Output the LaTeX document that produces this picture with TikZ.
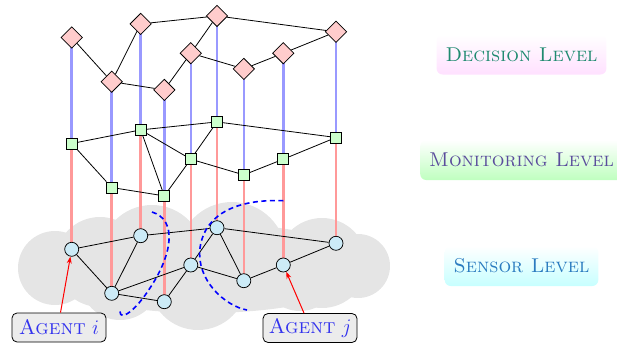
\documentclass[tikz,border=0pt]{standalone}
\usetikzlibrary{shapes.geometric,arrows.meta}
\pgfdeclarelayer{cloudl}
\pgfdeclarelayer{vert}
\pgfsetlayers{cloudl,vert,main}
\definecolor{dectext}{HTML}{1F8A70}
\definecolor{montext}{HTML}{5A4C9C}
\definecolor{sentext}{HTML}{2A7BC0}
\definecolor{sensfill}{HTML}{CCEBF7}
\definecolor{monfill}{HTML}{CCFFCC}
\definecolor{decfill}{HTML}{FFCCCC}
\definecolor{agenttext}{HTML}{3333EE}
\begin{document}
\begin{tikzpicture}[x=1pt,y=-1pt,
  sens/.style={circle,draw,line width=0.75pt,fill=sensfill,inner sep=0pt,minimum size=14pt},
  mon/.style={rectangle,draw,line width=0.75pt,fill=monfill,inner sep=0pt,minimum size=11pt},
  dec/.style={diamond,draw,line width=0.75pt,fill=decfill,inner sep=0pt,minimum size=21.5pt},
  link/.style={draw,line width=0.8pt},
  bluev/.style={draw=blue!40,line width=2.6pt},
  redv/.style={draw=red!40,line width=2.6pt},
  levelbox/.style={rounded corners=6pt,inner xsep=9pt,minimum height=40pt,font=\fontsize{20}{24}\selectfont\scshape},
  agentbox/.style={draw,line width=0.8pt,rounded corners=5pt,fill=gray!15,minimum width=94pt,minimum height=29pt,inner sep=2pt,text=agenttext,font=\fontsize{21}{24}\selectfont},
  agentarrow/.style={draw=red,line width=1pt,-{Stealth[length=7pt,width=5pt]}},
  partition/.style={draw=blue,line width=1.6pt,dash pattern=on 5pt off 3.5pt},
  cloudfill/.style={fill=gray!20,draw=none}
]
\useasboundingbox (0,0) rectangle (617,345);

% cloud
\begin{pgfonlayer}{cloudl}
\fill[cloudfill] (204,268) ellipse [x radius=165pt, y radius=45pt];
\fill[cloudfill] (55,268) circle [radius=37pt];
\fill[cloudfill] (100,262) circle [radius=45pt];
\fill[cloudfill] (152,257) circle [radius=52pt];
\fill[cloudfill] (232,256) circle [radius=54pt];
\fill[cloudfill] (322,263) circle [radius=45pt];
\fill[cloudfill] (358,266) circle [radius=32pt];
\fill[cloudfill] (198,281) circle [radius=49pt];
\fill[cloudfill] (120,280) circle [radius=40pt];
\fill[cloudfill] (300,273) circle [radius=38pt];
\end{pgfonlayer}

% sensor level
\node[sens] (s1) at (71.7,249.3) {};
\node[sens] (s2) at (140.7,235.7) {};
\node[sens] (s3) at (217,227.7) {};
\node[sens] (s4) at (336,243.3) {};
\node[sens] (s5) at (111.7,293.3) {};
\node[sens] (s6) at (164.3,301.7) {};
\node[sens] (s7) at (190.8,265) {};
\node[sens] (s8) at (243.8,280.7) {};
\node[sens] (s9) at (283.3,265) {};

% monitoring level
\node[mon] (m1) at (71.7,143.5) {};
\node[mon] (m2) at (140.7,129.9) {};
\node[mon] (m3) at (217,121.9) {};
\node[mon] (m4) at (336,137.5) {};
\node[mon] (m5) at (111.7,187.5) {};
\node[mon] (m6) at (164.3,195.9) {};
\node[mon] (m7) at (190.8,159.2) {};
\node[mon] (m8) at (243.8,174.9) {};
\node[mon] (m9) at (283.3,159.2) {};

% decision level
\node[dec] (d1) at (71.7,37.5) {};
\node[dec] (d2) at (140.7,23.9) {};
\node[dec] (d3) at (217,15.9) {};
\node[dec] (d4) at (336,31.8) {};
\node[dec] (d5) at (111.7,81.7) {};
\node[dec] (d6) at (164.3,89.9) {};
\node[dec] (d7) at (190.8,53.2) {};
\node[dec] (d8) at (243.8,68.9) {};
\node[dec] (d9) at (283.3,53.2) {};

% vertical links
\begin{pgfonlayer}{vert}
\foreach \k in {1,...,9}{
  \draw[bluev] (d\k.center) -- (m\k.center);
  \draw[redv] (m\k.center) -- (s\k.center);
}
% sensor edges
\draw[link] (s1)--(s2) (s1)--(s5) (s5)--(s2) (s2)--(s3) (s3)--(s4) (s3)--(s7) (s3)--(s8)
  (s5)--(s7) (s5)--(s6) (s6)--(s7) (s7)--(s8) (s8)--(s9) (s9)--(s4);
% monitoring edges
\draw[link] (m1)--(m2) (m1)--(m5) (m5)--(m6) (m2)--(m6) (m2)--(m7) (m2)--(m3) (m3)--(m7)
  (m3)--(m4) (m7)--(m6) (m7)--(m8) (m8)--(m9) (m9)--(m4);
% decision edges
\draw[link] (d1)--(d5) (d5)--(d2) (d5)--(d6) (d2)--(d3) (d3)--(d7) (d7)--(d6) (d3)--(d4)
  (d7)--(d8) (d8)--(d9) (d9)--(d4);
\end{pgfonlayer}

% partition curves
\coordinate (p1a) at (152,212);
\coordinate (p1b) at (150,288);
\coordinate (p1c) at (120,311.5);
\draw[partition] (p1a) .. controls (178,220) and (172,255) .. (p1b) .. controls (136,310) and (120,322) .. (p1c);
\coordinate (p2a) at (283.3,200.7);
\coordinate (p2b) at (200,248);
\coordinate (p2c) at (247,310);
\draw[partition] (p2a) .. controls (240,199) and (205,212) .. (p2b) .. controls (196,280) and (225,306) .. (p2c);

% agent labels
\node[agentbox] (ai) at (59,327.5) {\textsc{Agent} $i$};
\node[agentbox] (aj) at (310,328) {\textsc{Agent} $j$};
\draw[agentarrow] (ai.north) ++(1.5,0) coordinate (aist) (aist) -- (s1);
\draw[agentarrow] (aj.north) ++(-6,0) coordinate (ajst) (ajst) -- (s9);

% level labels
\node[levelbox,top color=white,bottom color=magenta!12,text=dectext] (ldec) at (521.5,54.5) {Decision Level};
\node[levelbox,top color=white,bottom color=green!25,text=montext] (lmon) at (521.5,160) {Monitoring Level};
\node[levelbox,top color=white,bottom color=cyan!22,text=sentext] (lsen) at (521.5,266) {Sensor Level};
\end{tikzpicture}
\end{document}
